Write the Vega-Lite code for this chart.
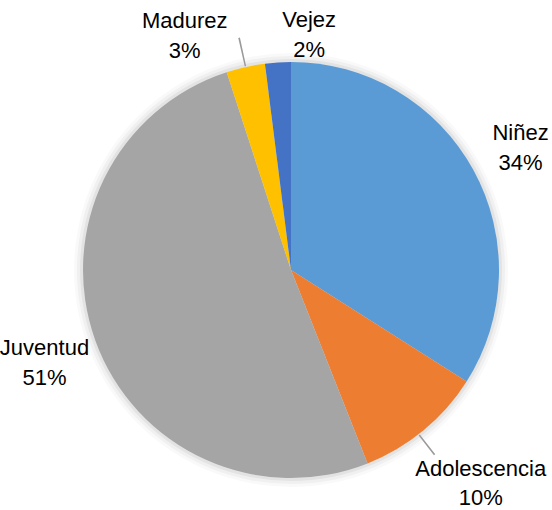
{
  "$schema": "https://vega.github.io/schema/vega-lite/v6.json",
  "width": 522,
  "height": 480,
  "padding": {"left": 30, "top": 30, "right": 0, "bottom": 0},
  "autosize": "none",
  "background": "white",
  "config": {"view": {"stroke": null}},
  "data": {
    "values": [
      {"orden": 1, "cat": "Niñez", "value": 34},
      {"orden": 2, "cat": "Adolescencia", "value": 10},
      {"orden": 3, "cat": "Juventud", "value": 51},
      {"orden": 4, "cat": "Madurez", "value": 3},
      {"orden": 5, "cat": "Vejez", "value": 2}
    ]
  },
  "transform": [
    {"window": [{"op": "sum", "field": "value", "as": "cum"}], "sort": [{"field": "orden", "order": "ascending"}]},
    {"calculate": "datum.cum - datum.value / 2", "as": "mid"},
    {"calculate": "datum.cat + '\\n' + datum.value + '%'", "as": "label"}
  ],
  "layer": [
    {
      "data": {"values": [{"s": 1}]},
      "mark": {"type": "arc", "theta": 0, "theta2": 6.2832, "radius": 217, "fill": "#000", "opacity": 0.025},
      "encoding": {}
    },
    {
      "data": {"values": [{"s": 1}]},
      "mark": {"type": "arc", "theta": 0, "theta2": 6.2832, "radius": 214, "fill": "#000", "opacity": 0.035},
      "encoding": {}
    },
    {
      "data": {"values": [{"s": 1}]},
      "mark": {"type": "arc", "theta": 0, "theta2": 6.2832, "radius": 211, "fill": "#000", "opacity": 0.05},
      "encoding": {}
    },
    {
      "mark": {"type": "arc", "radius": 208},
      "encoding": {
        "theta": {"field": "value", "type": "quantitative", "stack": true, "scale": {"domain": [0, 100]}},
        "order": {"field": "orden", "type": "quantitative"},
        "color": {
          "field": "cat",
          "type": "nominal",
          "scale": {
            "domain": ["Niñez", "Adolescencia", "Juventud", "Madurez", "Vejez"],
            "range": ["#5B9BD5", "#ED7D31", "#A5A5A5", "#FFC000", "#4472C4"]
          },
          "legend": null
        }
      }
    },
    {
      "transform": [{"filter": "datum.cat === 'Madurez'"}],
      "mark": {"type": "arc", "radius": 238, "radius2": 209, "thetaOffset": -0.0035, "theta2Offset": 0.0035, "fill": "#9a9a9a"},
      "encoding": {
        "theta": {"field": "mid", "type": "quantitative", "scale": {"domain": [0, 100]}},
        "theta2": {"field": "mid"}
      }
    },
    {
      "transform": [{"filter": "datum.cat === 'Adolescencia'"}],
      "mark": {"type": "arc", "radius": 234, "radius2": 209, "thetaOffset": 0.027, "theta2Offset": 0.034, "fill": "#9a9a9a"},
      "encoding": {
        "theta": {"field": "mid", "type": "quantitative", "scale": {"domain": [0, 100]}},
        "theta2": {"field": "mid"}
      }
    },
    {
      "transform": [{"filter": "datum.cat === 'Niñez' || datum.cat === 'Juventud'"}],
      "mark": {"type": "text", "radius": 262, "dy": -11, "font": "Liberation Sans", "fontSize": 22, "lineBreak": "\n", "lineHeight": 30, "color": "#000", "align": "center", "baseline": "middle"},
      "encoding": {
        "theta": {"field": "mid", "type": "quantitative", "scale": {"domain": [0, 100]}},
        "text": {"field": "label"}
      }
    },
    {
      "transform": [{"filter": "datum.cat === 'Adolescencia'"}],
      "mark": {"type": "text", "radius": 282, "dx": 10, "dy": -18, "font": "Liberation Sans", "fontSize": 22, "lineBreak": "\n", "lineHeight": 29, "color": "#000", "align": "center", "baseline": "middle"},
      "encoding": {
        "theta": {"field": "mid", "type": "quantitative", "scale": {"domain": [0, 100]}},
        "text": {"field": "label"}
      }
    },
    {
      "transform": [{"filter": "datum.cat === 'Madurez'"}],
      "mark": {"type": "text", "radius": 258, "dx": -50, "dy": 3, "font": "Liberation Sans", "fontSize": 22, "lineBreak": "\n", "lineHeight": 30, "color": "#000", "align": "center", "baseline": "middle"},
      "encoding": {
        "theta": {"field": "mid", "type": "quantitative", "scale": {"domain": [0, 100]}},
        "text": {"field": "label"}
      }
    },
    {
      "transform": [{"filter": "datum.cat === 'Vejez'"}],
      "mark": {"type": "text", "radius": 236, "dx": 33, "dy": -14, "font": "Liberation Sans", "fontSize": 22, "lineBreak": "\n", "lineHeight": 30, "color": "#000", "align": "center", "baseline": "middle"},
      "encoding": {
        "theta": {"field": "mid", "type": "quantitative", "scale": {"domain": [0, 100]}},
        "text": {"field": "label"}
      }
    }
  ]
}
